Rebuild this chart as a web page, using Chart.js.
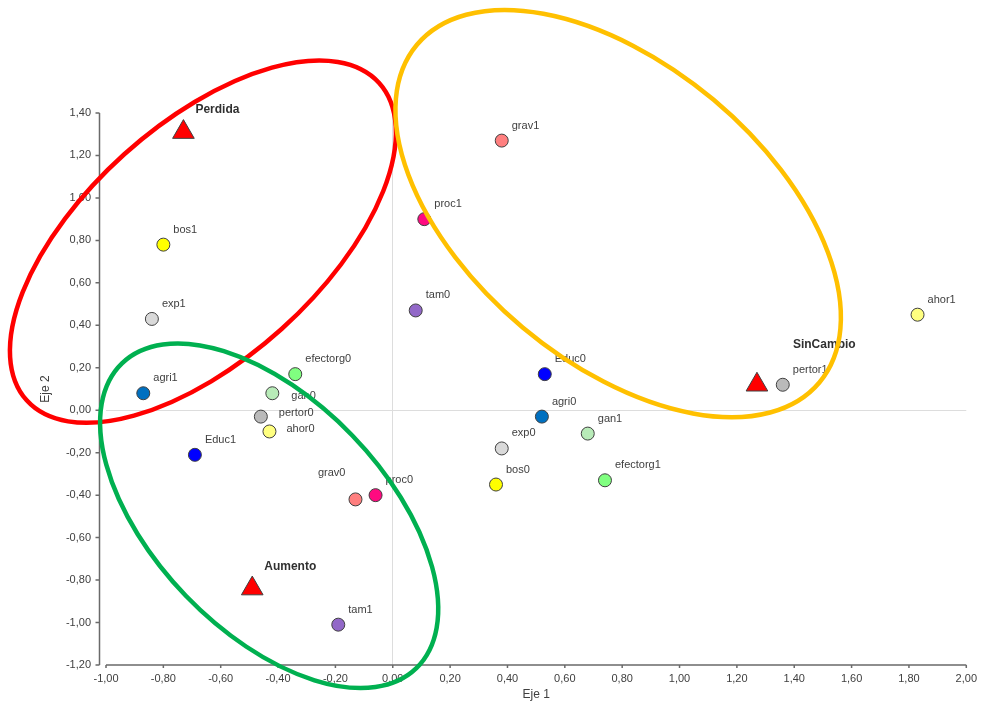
<!DOCTYPE html>
<html>
<head>
<meta charset="utf-8">
<script src="https://cdn.jsdelivr.net/npm/chart.js@4/dist/chart.umd.min.js"></script>
<style>
  html, body { margin: 0; padding: 0; background: #ffffff; }
  canvas { display: block; }
</style>
</head>
<body>
<canvas id="c" width="984" height="715"></canvas>
<script>
// Variable categories (modalities) on the first two axes
const pointNames = ['bos1', 'exp1', 'proc1', 'grav1', 'tam0', 'agri1', 'efectorg0', 'gan0', 'pertor0', 'ahor0', 'Educ1',
                    'grav0', 'proc0', 'Educ0', 'agri0', 'gan1', 'exp0', 'bos0', 'efectorg1', 'pertor1', 'ahor1', 'tam1'];
const eje1Values = [-0.80, -0.84, 0.11, 0.38, 0.08, -0.87, -0.34, -0.42, -0.46, -0.43, -0.69,
                    -0.13, -0.06, 0.53, 0.52, 0.68, 0.38, 0.36, 0.74, 1.36, 1.83, -0.19];
const eje2Values = [0.78, 0.43, 0.90, 1.27, 0.47, 0.08, 0.17, 0.08, -0.03, -0.10, -0.21,
                    -0.42, -0.40, 0.17, -0.03, -0.11, -0.18, -0.35, -0.33, 0.12, 0.45, -1.01];
const pointColors = ['#ffff00', '#d9d9d9', '#ff0a80', '#ff7f7f', '#9268c8', '#0070c0', '#80ff80', '#b8ebb8', '#bababa', '#ffff80', '#0000ff',
                     '#ff7f7f', '#ff0a80', '#0000ff', '#0070c0', '#b8ebb8', '#d9d9d9', '#ffff00', '#80ff80', '#bababa', '#ffff80', '#9268c8'];

// Supplementary groups (change in forest cover)
const groupNames = ['Perdida', 'SinCambio', 'Aumento'];
const groupEje1 = [-0.73, 1.27, -0.49];
const groupEje2 = [1.31, 0.12, -0.84];

// Axis tick values
const xTickValues = [-1.0, -0.8, -0.6, -0.4, -0.2, 0.0, 0.2, 0.4, 0.6, 0.8, 1.0, 1.2, 1.4, 1.6, 1.8, 2.0];
const yTickValues = [-1.2, -1.0, -0.8, -0.6, -0.4, -0.2, 0.0, 0.2, 0.4, 0.6, 0.8, 1.0, 1.2, 1.4];

const fmt = v => {
  const r = Math.round(v * 100) / 100;
  return (Math.abs(r) < 1e-9 ? 0 : r).toFixed(2).replace('.', ',');
};

const FONT = '"Liberation Sans", Arial, sans-serif';
const TEXT = '#404040';

// Label nudges where the default up-right placement would collide
const labelShift = {
  gan0: [19, 3, 'left'],
  pertor0: [18, -4, 'left'],
  ahor0: [17, -2, 'left'],
  grav0: [-10, -26, 'right'],
  SinCambio: [36, -40, 'left']
};

// Group outlines: center in axis units, semi-axes in Eje 1 units, tilt in screen degrees
const groupOutlines = [
  { color: '#ff0000', cx: -0.662, cy: 0.794, a: 0.827, b: 0.410, tilt: -42 },
  { color: '#00b050', cx: -0.431, cy: -0.497, a: 0.739, b: 0.403, tilt: 46 },
  { color: '#ffc000', cx: 0.786, cy: 0.926, a: 0.916, b: 0.518, tilt: 40 }
];

const axesPlugin = {
  id: 'offsetAxes',
  beforeDatasetsDraw(chart) {
    const { ctx, chartArea, scales: { x, y } } = chart;
    ctx.save();
    ctx.strokeStyle = '#6a6a6a';
    ctx.lineWidth = 1.5;
    const ax = chartArea.left - 6.5;
    const yTop = y.getPixelForValue(yTickValues[yTickValues.length - 1]);
    const yBot = y.getPixelForValue(yTickValues[0]);
    ctx.beginPath();
    ctx.moveTo(ax, yTop);
    ctx.lineTo(ax, yBot);
    yTickValues.forEach(v => {
      const py = y.getPixelForValue(v);
      ctx.moveTo(ax - 4, py);
      ctx.lineTo(ax, py);
    });
    const ay = chartArea.bottom;
    const xL = x.getPixelForValue(xTickValues[0]);
    const xR = x.getPixelForValue(xTickValues[xTickValues.length - 1]);
    ctx.moveTo(xL, ay);
    ctx.lineTo(xR, ay);
    xTickValues.forEach(v => {
      const px = x.getPixelForValue(v);
      ctx.moveTo(px, ay);
      ctx.lineTo(px, ay + 3);
    });
    ctx.stroke();
    ctx.restore();
  }
};

const labelsPlugin = {
  id: 'pointLabels',
  afterDatasetsDraw(chart) {
    const { ctx, scales: { x, y } } = chart;
    ctx.save();
    ctx.textBaseline = 'middle';

    const pts = chart.getDatasetMeta(0).data;
    ctx.font = '11px ' + FONT;
    ctx.fillStyle = TEXT;
    pts.forEach((el, i) => {
      const name = pointNames[i];
      const s = labelShift[name] || [10, -15, 'left'];
      ctx.textAlign = s[2];
      ctx.fillText(name, el.x + s[0], el.y + s[1]);
    });

    const grp = chart.getDatasetMeta(1).data;
    ctx.font = 'bold 12px ' + FONT;
    ctx.fillStyle = '#303030';
    grp.forEach((el, i) => {
      const name = groupNames[i];
      const s = labelShift[name] || [12, -22, 'left'];
      ctx.textAlign = s[2];
      ctx.fillText(name, el.x + s[0], el.y + s[1]);
    });

    // Group outlines over everything
    const unit = x.getPixelForValue(1) - x.getPixelForValue(0);
    ctx.lineWidth = 4.5;
    groupOutlines.forEach(g => {
      ctx.strokeStyle = g.color;
      ctx.beginPath();
      ctx.ellipse(x.getPixelForValue(g.cx), y.getPixelForValue(g.cy),
                  g.a * unit, g.b * unit, g.tilt * Math.PI / 180, 0, Math.PI * 2);
      ctx.stroke();
    });
    ctx.restore();
  }
};

const zeroGrid = c => (Math.abs(c.tick.value) < 1e-9 ? '#dddddd' : 'rgba(0,0,0,0)');

new Chart(document.getElementById('c'), {
  type: 'scatter',
  data: {
    datasets: [
      {
        label: 'Modalidades',
        data: eje1Values.map((v, i) => ({ x: v, y: eje2Values[i] })),
        pointStyle: 'circle',
        pointRadius: 6.5,
        pointHoverRadius: 6.5,
        pointBackgroundColor: pointColors,
        pointBorderColor: '#404040',
        pointBorderWidth: 1
      },
      {
        label: 'Grupos',
        data: groupEje1.map((v, i) => ({ x: v, y: groupEje2[i] })),
        pointStyle: 'triangle',
        pointRadius: 12.5,
        pointHoverRadius: 12.5,
        pointBackgroundColor: '#ff0000',
        pointBorderColor: '#404040',
        pointBorderWidth: 1
      }
    ]
  },
  options: {
    responsive: false,
    animation: false,
    events: [],
    layout: { padding: { top: 113, right: 15, left: 0, bottom: 0 } },
    plugins: { legend: { display: false }, title: { display: false }, tooltip: { enabled: false } },
    scales: {
      x: {
        type: 'linear',
        min: -1, max: 2,
        afterFit: s => { s.height = 50; },
        afterBuildTicks: s => { s.ticks = xTickValues.map(v => ({ value: v })); },
        border: { display: false },
        grid: { drawTicks: false, color: zeroGrid, lineWidth: 1 },
        ticks: {
          padding: 7, autoSkip: false, maxRotation: 0,
          color: TEXT, font: { family: FONT, size: 11 },
          callback: v => fmt(v)
        },
        title: {
          display: true, text: 'Eje 1', color: TEXT,
          font: { family: FONT, size: 12 },
          padding: { top: 0, bottom: 13 }
        }
      },
      y: {
        type: 'linear',
        min: -1.2, max: 1.4,
        afterFit: s => { s.width = 106; },
        afterBuildTicks: s => { s.ticks = yTickValues.map(v => ({ value: v })); },
        border: { display: false },
        grid: { drawTicks: false, color: zeroGrid, lineWidth: 1 },
        ticks: {
          padding: 15, autoSkip: false,
          color: TEXT, font: { family: FONT, size: 11 },
          callback: v => fmt(v)
        },
        title: {
          display: true, text: 'Eje 2', color: TEXT,
          font: { family: FONT, size: 12 },
          padding: { top: 38, bottom: 0 }
        }
      }
    }
  },
  plugins: [axesPlugin, labelsPlugin]
});
</script>
</body>
</html>
